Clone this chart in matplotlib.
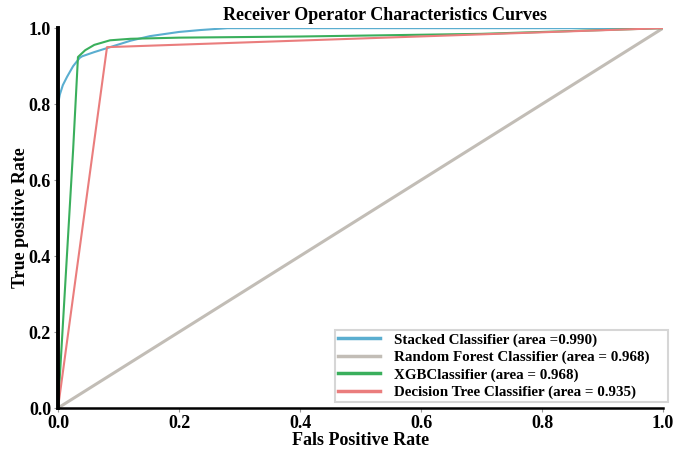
import numpy as np
import matplotlib
matplotlib.use('Agg')
from matplotlib import pyplot as plt

plt.rcParams['font.family'] = ['Liberation Serif', 'DejaVu Serif']
plt.rcParams['font.weight'] = 'bold'

# values
stacked_fpr = [0.0, 0.0, 0.003, 0.008, 0.015, 0.025, 0.036, 0.04, 0.06, 0.086, 0.12, 0.152, 0.2, 0.235, 0.28, 0.5, 1.0]
stacked_tpr = [0.0, 0.80, 0.825, 0.85, 0.872, 0.9, 0.922, 0.926, 0.937, 0.95, 0.967, 0.979, 0.99, 0.995, 1.0, 1.0, 1.0]

rf_fpr = [0.0, 1.0]
rf_tpr = [0.0, 1.0]

xgb_fpr = [0.0, 0.025, 0.033, 0.045, 0.06, 0.086, 0.12, 0.2, 0.4, 0.7, 1.0]
xgb_tpr = [0.0, 0.68, 0.924, 0.942, 0.956, 0.968, 0.972, 0.975, 0.978, 0.985, 1.0]

dt_fpr = [0.0, 0.081, 1.0]
dt_tpr = [0.0, 0.95, 1.0]

labels = ['Stacked Classifier (area =0.990)',
          'Random Forest Classifier (area = 0.968)',
          'XGBClassifier (area = 0.968)',
          'Decision Tree Classifier (area = 0.935)']
colors = ['#5aaed0', '#c2bdb6', '#3aaf5c', '#ea7d7d']

fig = plt.figure(figsize=(6.76, 4.49), dpi=100)
ax = fig.add_axes([0.0858, 0.0913, 0.895, 0.846])

ax.plot(stacked_fpr, stacked_tpr, color=colors[0], lw=1.5, label=labels[0])
ax.plot(rf_fpr, rf_tpr, color=colors[1], lw=2.2, label=labels[1])
ax.plot(xgb_fpr, xgb_tpr, color=colors[2], lw=1.5, label=labels[2])
ax.plot(dt_fpr, dt_tpr, color=colors[3], lw=1.5, label=labels[3])

ax.set_xlim(0, 1)
ax.set_ylim(0, 1)
ax.set_xticks([0, 0.2, 0.4, 0.6, 0.8, 1.0])
ax.set_yticks([0, 0.2, 0.4, 0.6, 0.8, 1.0])
ax.tick_params(labelsize=13, length=3, color='#999999', pad=2)
for t in ax.get_xticklabels() + ax.get_yticklabels():
    t.set_fontweight('bold')

ax.spines['top'].set_visible(False)
ax.spines['right'].set_visible(False)
ax.spines['left'].set_linewidth(2.8)
ax.spines['bottom'].set_linewidth(1.8)

ax.set_xlabel('Fals Positive Rate', fontsize=13, fontweight='bold', labelpad=0)
ax.set_ylabel('True positive Rate', fontsize=13, fontweight='bold', labelpad=0)
ax.set_title('Receiver Operator Characteristics Curves', fontsize=13,
             fontweight='bold', x=0.54, pad=6)

leg = ax.legend(loc='lower left', bbox_to_anchor=(0.458, 0.016, 0.55, 0.2),
                mode='expand', prop={'size': 10.8, 'weight': 'bold'},
                frameon=True, fancybox=False, borderpad=0.2, labelspacing=0.25,
                handlelength=2.8, handletextpad=0.9, borderaxespad=0.0)
leg.get_frame().set_edgecolor('#cccccc')
leg.get_frame().set_linewidth(1.5)
for line in leg.get_lines():
    line.set_linewidth(2.5)

fig.savefig('out.png', dpi=100)
